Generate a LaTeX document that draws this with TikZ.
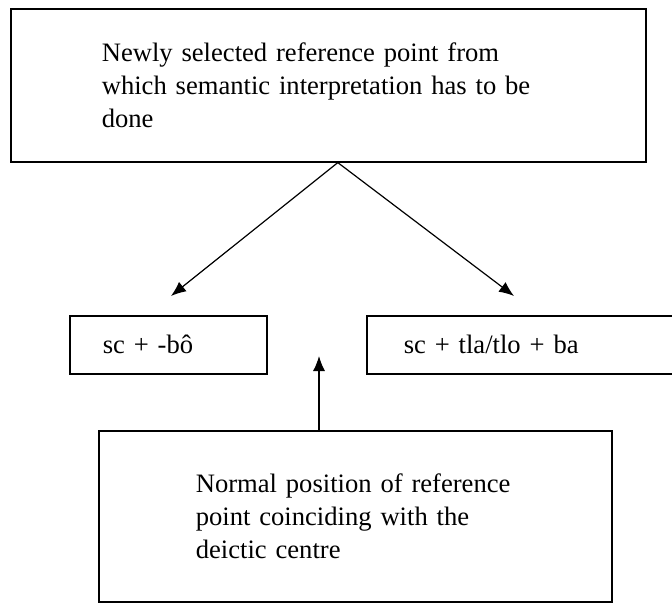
\documentclass[tikz,border=0pt]{standalone}
\usepackage{fontspec}
\setmainfont{Liberation Serif}
\usetikzlibrary{arrows.meta,positioning,calc}

\begin{document}
\begin{tikzpicture}[
    x=0.5pt, y=-0.5pt,
    box/.style={rectangle, draw, line width=0.8pt, align=left, inner ysep=0pt, anchor=north west, font=\fontsize{13.3}{16.5}\selectfont},
    arrow/.style={-{Latex[length=7.5pt,width=6pt]}, line width=0.6pt}
]
    \useasboundingbox (0,0) rectangle (672,603);
    \clip (0,0) rectangle (672,603);

    % upper box
    \node[box, text width=226.5pt, inner xsep=45.5pt, minimum height=76.25pt] (newref) at (10,8.5)
        {Newly selected reference point from\\ which semantic interpretation has to be\\ done};

    % the two forms
    \node[box, text width=65.5pt, inner xsep=16.5pt, minimum height=29pt] (bo) at (69,315) {sc + -bô};
    \node[box, text width=130pt, inner xsep=18.5pt, minimum height=29pt] (ba) at (366,315) {sc + tla/tlo + ba};

    % lower box
    \node[box, text width=159.5pt, inner xsep=48.5pt, minimum height=85.5pt] (normal) at (98,430)
        {Normal position of reference\\ point coinciding with the\\ deictic centre};

    % Arrows
    \coordinate (split) at ($(newref.south)+(4.75pt,0pt)$);
    \coordinate (tipbo) at (171,296);
    \coordinate (tipba) at (514,296);
    \coordinate (tipup) at (319,356);

    \draw[arrow] (split) -- (tipbo);
    \draw[arrow] (split) -- (tipba);
    \draw[arrow] (normal.north -| tipup) -- (tipup);
\end{tikzpicture}
\end{document}
